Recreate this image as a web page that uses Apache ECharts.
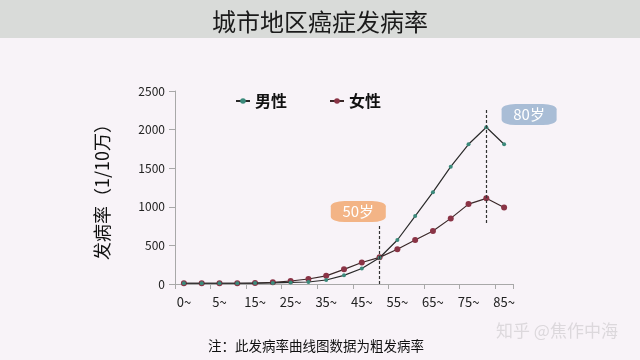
<!DOCTYPE html>
<html><head><meta charset="utf-8">
<script src="https://cdn.jsdelivr.net/npm/echarts@6/dist/echarts.min.js"></script>
<style>html,body{margin:0;padding:0;background:#f8f3f8;}#c{width:640px;height:360px;}</style>
</head><body><div id="c"></div>
<script>
const categories = ['0~','1~','5~','10~','15~','20~','25~','30~','35~','40~','45~','50~','55~','60~','65~','70~','75~','80~','85~'];
const male   = [10, 10, 10, 10, 12, 14, 20, 26, 52, 112, 200, 340, 570, 880, 1190, 1520, 1810, 2030, 1810];
const female = [10, 10, 10, 10, 12, 22, 39, 65, 106, 190, 278, 345, 450, 570, 686, 850, 1035, 1110, 990];
const yTicks = [0, 500, 1000, 1500, 2000, 2500];
const ageLines = [['50~', 0, 760], ['80~', 790, 2280]];
const ageBadges = [['50岁', '45~', 940, -3.5, '#f3b486'], ['80岁', '85~', 2195, 25, '#a9bdd6']];

const chart = echarts.init(document.getElementById('c'));
const font = '"Noto Sans CJK SC", "Noto Sans", sans-serif';
chart.setOption({
  backgroundColor: '#f8f3f8',
  textStyle: {fontFamily: font},
  title: {text: '城市地区癌症发病率', left: 'center', top: 5,
    textStyle: {fontSize: 24, fontWeight: 'normal', color: '#1a1a1a', fontFamily: font}},
  graphic: [
    {type: 'rect', z: -10, shape: {x: 0, y: 0, width: 640, height: 38}, style: {fill: '#d9dbd9'}},
    {type: 'text', left: 208, top: 339, style: {text: '注：此发病率曲线图数据为粗发病率', fontSize: 13.5, fill: '#111', fontFamily: font}},
    {type: 'text', left: 496, top: 322, style: {text: '知乎 @焦作中海', fontSize: 17, fill: '#dcd8dc', fontFamily: font}}
  ],
  legend: {
    left: 230, top: 88, itemGap: 42, itemWidth: 14, itemHeight: 7,
    textStyle: {fontSize: 16, fontWeight: 'bold', color: '#111', fontFamily: font},
    data: ['男性', '女性']
  },
  grid: {left: 175, right: 127, top: 91, bottom: 76},
  xAxis: {
    type: 'category', data: categories, boundaryGap: true,
    axisLine: {lineStyle: {color: '#a8a8a8'}},
    axisTick: {show: true, lineStyle: {color: '#a8a8a8'}},
    axisLabel: {interval: 1, fontSize: 13, color: '#222', margin: 12}
  },
  yAxis: {
    type: 'value', min: 0, max: 2500, interval: 500,
    name: '发病率（1/10万）', nameLocation: 'middle', nameGap: 64, nameRotate: 90,
    nameTextStyle: {fontSize: 18, color: '#111', fontFamily: font},
    axisLine: {show: true, lineStyle: {color: '#a8a8a8'}},
    axisTick: {show: true, inside: false, length: 6, lineStyle: {color: '#a8a8a8'}},
    splitLine: {show: false},
    axisLabel: {fontSize: 12, color: '#222', margin: 10,
      formatter: v => yTicks.includes(v) ? String(v) : ''}
  },
  series: [
    {name: '男性', type: 'line', data: male, symbol: 'circle', symbolSize: 4,
      lineStyle: {color: '#2a2a2a', width: 1.2}, itemStyle: {color: '#3b8a7b'},
      z: 3,
      markLine: {silent: true, symbol: 'none', label: {show: false},
        lineStyle: {color: '#333', type: [3, 2], width: 1.2},
        data: ageLines.map(a => [{coord: [a[0], a[1]]}, {coord: [a[0], a[2]]}])},
      markPoint: {
        data: ageBadges.map(b => ({coord: [b[1], b[2]], symbol: 'roundRect', symbolSize: [55, 21],
          symbolOffset: [b[3], 0], itemStyle: {color: b[4]},
          label: {show: true, formatter: b[0], color: '#fff', fontSize: 15, fontFamily: font}}))
      }
    },
    {name: '女性', type: 'line', data: female, symbol: 'circle', symbolSize: 6,
      lineStyle: {color: '#3a2828', width: 1.2}, itemStyle: {color: '#8a3446'}, z: 2}
  ]
});
</script></body></html>
